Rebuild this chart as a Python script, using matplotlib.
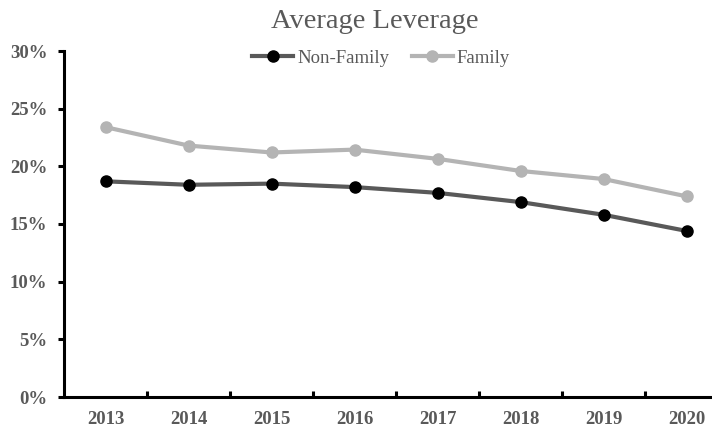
import matplotlib
matplotlib.use("Agg")
import matplotlib.pyplot as plt
from matplotlib.ticker import FixedLocator, FuncFormatter

years = ["2013", "2014", "2015", "2016", "2017", "2018", "2019", "2020"]
non_family = [18.7, 18.4, 18.5, 18.2, 17.7, 16.9, 15.8, 14.4]
family = [23.4, 21.8, 21.2, 21.45, 20.65, 19.6, 18.9, 17.4]
y_ticks = [0, 5, 10, 15, 20, 25, 30]

TEXT_GRAY = "#595959"


def main():
    plt.rcParams["font.family"] = ["Liberation Serif", "DejaVu Serif"]

    fig = plt.figure(figsize=(7.12, 4.32), dpi=100)
    ax = fig.add_axes([64 / 712, 35 / 432, 664 / 712, 346 / 432])

    x = list(range(len(years)))
    ax.plot(x, non_family, color="#595959", lw=3, marker="o", ms=8,
            mfc="black", mec="black", label="Non-Family", zorder=3)
    ax.plot(x, family, color="#b4b4b4", lw=3, marker="o", ms=8,
            mfc="#b4b4b4", mec="#b4b4b4", label="Family", zorder=2)

    _style_axes(ax, x)

    fig.text(375 / 712, 1 - 21 / 432, "Average Leverage", ha="center", va="center",
             fontsize=20.5, color=TEXT_GRAY)

    ax.legend(loc="center", bbox_to_anchor=(381 / 712, 1 - 58 / 432),
              bbox_transform=fig.transFigure, ncol=2, frameon=False,
              fontsize=13.5, handlelength=2.2, handletextpad=0.2,
              columnspacing=1.2, labelcolor=TEXT_GRAY)

    fig.savefig("out.png", dpi=100)
    plt.close(fig)


def _style_axes(ax, x):
    ax.set_xlim(-0.5, len(years) - 0.5)
    ax.set_ylim(0, 30)

    for side in ["top", "right"]:
        ax.spines[side].set_visible(False)
    for side in ["left", "bottom"]:
        ax.spines[side].set_linewidth(2.2)
        ax.spines[side].set_color("black")

    ax.set_xticks(x)
    ax.set_xticklabels(years)
    ax.xaxis.set_minor_locator(FixedLocator([i + 0.5 for i in x[:-1]]))
    ax.tick_params(axis="x", which="major", length=0, pad=10)
    ax.tick_params(axis="x", which="minor", direction="in", length=4, width=2.2)

    ax.set_yticks(y_ticks)
    ax.yaxis.set_major_formatter(FuncFormatter(lambda v, _: f"{v:.0f}%"))
    ax.tick_params(axis="y", direction="out", length=4, width=2.2, pad=8)

    for lbl in ax.get_xticklabels() + ax.get_yticklabels():
        lbl.set_fontweight("bold")
        lbl.set_fontsize(13.5)
        lbl.set_color(TEXT_GRAY)


if __name__ == "__main__":
    main()
